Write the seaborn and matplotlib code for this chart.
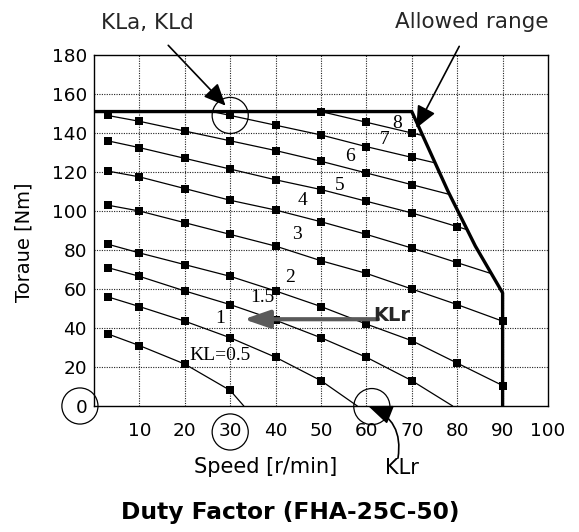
import matplotlib
matplotlib.use("Agg")
import matplotlib.pyplot as plt
import numpy as np
import pandas as pd
import seaborn as sns

# ---- data -----------------------------------------------------------------
# speeds at which the duty-factor table is tabulated (marked points)
speed_grid = [3, 10, 20, 30, 40, 50, 60, 70, 80, 90]

# each KL curve: speed [r/min] and torque [Nm]; unmarked ends are where the
# curve meets zero torque or the allowed-range boundary
speed_kl05 = [3, 10, 20, 30, 33]
torque_kl05 = [37, 31, 21.5, 8, 0]

speed_kl1 = [3, 10, 20, 30, 40, 50, 58]
torque_kl1 = [56, 51, 43.5, 35, 25, 13, 0]

speed_kl15 = [3, 10, 20, 30, 40, 50, 60, 70, 79]
torque_kl15 = [71, 66.5, 59, 52, 44, 35, 25, 13, 0]

speed_kl2 = [3, 10, 20, 30, 40, 50, 60, 70, 80, 90]
torque_kl2 = [83, 78.5, 72.5, 66.5, 59, 51, 42, 33.5, 22, 10.5]

speed_kl3 = [3, 10, 20, 30, 40, 50, 60, 70, 80, 90]
torque_kl3 = [103, 100, 94, 88, 82, 74.5, 68, 60, 52, 43.5]

speed_kl4 = [3, 10, 20, 30, 40, 50, 60, 70, 80, 87.5]
torque_kl4 = [120.5, 117.5, 111.5, 105.5, 100.5, 94.5, 88, 81, 73.5, 67.9]

speed_kl5 = [3, 10, 20, 30, 40, 50, 60, 70, 80, 82.2]
torque_kl5 = [136, 132.5, 127, 121.5, 116, 111, 105, 99, 92, 90.4]

speed_kl6 = [3, 10, 20, 30, 40, 50, 60, 70, 78.3]
torque_kl6 = [149, 146, 141, 136, 131, 125.5, 119.5, 113.5, 108.5]

speed_kl7 = [26, 30, 40, 50, 60, 70, 75.1]
torque_kl7 = [151, 149, 144, 139, 133, 127.5, 124.7]

speed_kl8 = [50, 60, 70, 72.4]
torque_kl8 = [151, 145.5, 140, 138.7]

kl_names = ["0.5", "1", "1.5", "2", "3", "4", "5", "6", "7", "8"]
kl_labels = ["KL=0.5", "1", "1.5", "2", "3", "4", "5", "6", "7", "8"]

# allowed-range boundary (torque limit, then speed limit)
limit_speed = [0, 70, 78, 84, 90, 90]
limit_torque = [151, 151, 110, 82, 58, 0]

# rated-point read-off arrow
klr_torque = 44.5
klr_speed_from = 62.5
klr_speed_to = 33

x_ticks = [10, 20, 30, 40, 50, 60, 70, 80, 90, 100]
y_ticks = [0, 20, 40, 60, 80, 100, 120, 140, 160, 180]

# ---- long-form tables ------------------------------------------------------
speeds = [speed_kl05, speed_kl1, speed_kl15, speed_kl2, speed_kl3,
          speed_kl4, speed_kl5, speed_kl6, speed_kl7, speed_kl8]
torques = [torque_kl05, torque_kl1, torque_kl15, torque_kl2, torque_kl3,
           torque_kl4, torque_kl5, torque_kl6, torque_kl7, torque_kl8]
frames = []
for name, s, t in zip(kl_names, speeds, torques):
    frames.append(pd.DataFrame({"kl": name, "speed": s, "torque": t}))
df = pd.concat(frames, ignore_index=True)
df["marked"] = df["speed"].isin(speed_grid)

limit_df = pd.DataFrame({"speed": limit_speed, "torque": limit_torque,
                         "part": "limit"})

# ---- style -----------------------------------------------------------------
sns.set_theme(style="white")
plt.rcParams["font.family"] = ["DejaVu Sans"]
plt.rcParams["axes.edgecolor"] = "black"
plt.rcParams["axes.linewidth"] = 1.0

W, H = 579, 532
fig = plt.figure(figsize=(W / 100, H / 100), dpi=100)
ax = fig.add_axes([94 / W, 1 - 406 / H, 454 / W, 351 / H])

ax.set_xlim(0, 100)
ax.set_ylim(0, 180)

# dotted grid
grid_kw = dict(color="#222222", lw=0.8, ls=(0, (1, 1.2)), zorder=1)
for gx in x_ticks[:-1]:
    ax.axvline(gx, **grid_kw)
for gy in y_ticks[1:-1]:
    ax.axhline(gy, **grid_kw)

# KL curves and their tabulated points
sns.lineplot(data=df, x="speed", y="torque", units="kl", estimator=None,
             sort=False, color="black", lw=0.9, ax=ax, zorder=3)
sns.scatterplot(data=df[df["marked"]], x="speed", y="torque", marker="s",
                color="black", s=27, linewidth=0, ax=ax, zorder=4)

# allowed range boundary
sns.lineplot(data=limit_df, x="speed", y="torque", units="part",
             estimator=None, sort=False, color="black", lw=2.4, ax=ax,
             zorder=5)

# curve labels
label_pos = [(27.8, 26.1), (27.8, 45.1), (37.0, 55.4), (43.2, 66.1),
             (44.7, 87.7), (46.0, 105.6), (54.2, 113.3), (56.4, 127.7),
             (64.1, 136.9), (66.7, 145.1)]
for lab, (lx, ly) in zip(kl_labels, label_pos):
    ax.text(lx, ly, lab, family="Liberation Serif", fontsize=14,
            ha="center", va="center", color="black", zorder=6)

# KLr read-off arrow
ax.annotate("", xy=(klr_speed_to, klr_torque),
            xytext=(klr_speed_from, klr_torque),
            arrowprops=dict(arrowstyle="-|>,head_length=1.3,head_width=0.45",
                            mutation_scale=12, color="#5a5a5a", lw=3,
                            shrinkA=0, shrinkB=0), zorder=7)
ax.text(klr_speed_from - 1, klr_torque + 2, "KLr", fontsize=14,
        fontweight="bold", ha="left", va="center", zorder=8)

# ticks and labels
ax.set_xticks(x_ticks)
ax.set_xticklabels([str(v) for v in x_ticks])
ax.set_yticks(y_ticks)
ax.set_yticklabels([str(v) for v in y_ticks])
ax.tick_params(axis="x", length=0, pad=11.5, labelsize=13.3, colors="black")
ax.tick_params(axis="y", length=0, pad=5, labelsize=13.3, colors="black")
ax.grid(False)

ax.set_xlabel("Speed [r/min]", fontsize=15, color="black")
ax.xaxis.set_label_coords(0.378, -0.145)
ax.xaxis.label.set_va("top")
ax.set_ylabel("Toraue [Nm]", fontsize=14, color="black")
ax.yaxis.set_label_coords(-0.154, 0.466)
ax.yaxis.label.set_va("center")

for sp in ax.spines.values():
    sp.set_visible(True)
    sp.set_color("black")
    sp.set_linewidth(1.0)

# highlight circles
circ = dict(marker="o", s=26 ** 2, facecolors="none", edgecolors="black",
            linewidths=0.9, clip_on=False, zorder=9)
ax.scatter([speed_kl7[1]], [torque_kl7[1]], **circ)
ax.scatter([30], [-0.074], transform=ax.get_xaxis_transform(), **circ)
ax.scatter([-0.031], [0], transform=ax.get_yaxis_transform(), **circ)
ax.scatter([61.2], [-0.3], **circ)

# callouts
ax.annotate("KLa, KLd", xy=(speed_kl7[1] - 1, torque_kl7[1] + 5),
            xytext=(147, H - 23), textcoords="figure pixels",
            fontsize=15.5, ha="center", va="center", annotation_clip=False,
            arrowprops=dict(arrowstyle="-|>,head_length=0.9,head_width=0.4",
                            mutation_scale=15, color="black", lw=1.2,
                            shrinkA=9, shrinkB=0), zorder=10)
ax.annotate("Allowed range", xy=(71, 142.5),
            xytext=(472, H - 22), textcoords="figure pixels",
            fontsize=15.5, ha="center", va="center", annotation_clip=False,
            arrowprops=dict(arrowstyle="-|>,head_length=0.9,head_width=0.4",
                            mutation_scale=15, color="black", lw=1.2,
                            shrinkA=9, shrinkB=0), zorder=10)
ax.text(402, H - 468, "KLr", transform=None, fontsize=15, ha="center",
        va="center", color="black")
ax.annotate("", xy=(60.4, 0), xytext=(398, H - 458),
            textcoords="figure pixels", annotation_clip=False,
            arrowprops=dict(arrowstyle="-|>,head_length=1.0,head_width=0.4",
                            mutation_scale=15, color="black", lw=1.2,
                            shrinkA=0, shrinkB=0,
                            connectionstyle="arc3,rad=0.4"), zorder=10)

fig.text(290 / W, 1 - 513 / H, "Duty Factor (FHA-25C-50)", fontsize=16.8,
         fontweight="bold", ha="center", va="center", color="black")

fig.savefig("out.png", dpi=100, facecolor="white")
